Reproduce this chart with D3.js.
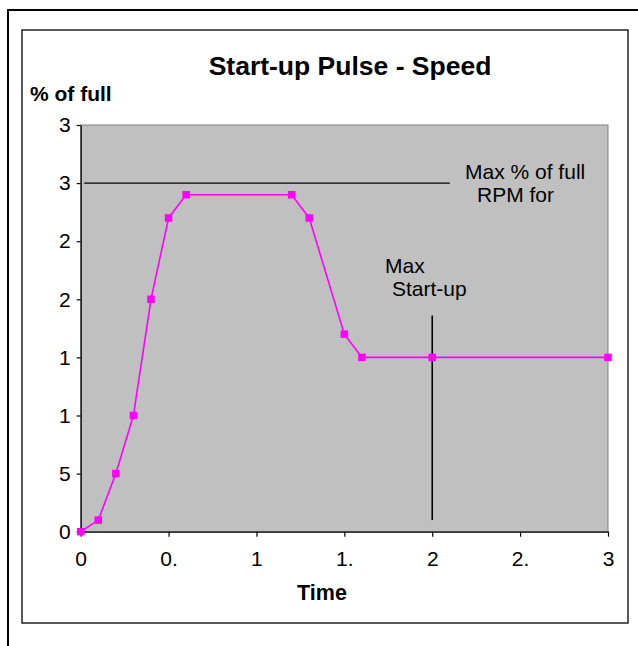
<!DOCTYPE html>
<html>
<head>
<meta charset="utf-8">
<script src="https://cdn.jsdelivr.net/npm/d3@7"></script>
<style>
  body { margin: 0; background: #fff; }
  text { font-family: "Liberation Sans", Arial, sans-serif; }
</style>
</head>
<body>
<svg></svg>
<script>
// data (time in s, speed in % of full)
let times = [0, 0.1, 0.2, 0.3, 0.4, 0.5, 0.6, 1.2, 1.3, 1.5, 1.6, 2.0, 3.0];
let speeds = [0, 1, 5, 10, 20, 27, 29, 29, 27, 17, 15, 15, 15];

let maxLineX = [0.02, 2.1];
let maxLineY = 30;
let startupX = 2.0;
let startupY = [1, 18.6];

let xTicks = [0, 0.5, 1, 1.5, 2, 2.5, 3];
let xTickLabels = ["0", "0.", "1", "1.", "2", "2.", "3"];
let yTicks = [0, 5, 10, 15, 20, 25, 30, 35];
let yTickLabels = ["0", "5", "1", "1", "2", "2", "3", "3"];

let width = 638;
let height = 646;

let svg = d3.select("svg").attr("width", width).attr("height", height);

let xScale = d3.scaleLinear().domain([0, 3]).range([80.7, 608]);
let yScale = d3.scaleLinear().domain([0, 35]).range([531.7, 125]);

// frames
svg.append("path")
  .attr("d", "M8,646 L8,10 L638,10")
  .attr("fill", "none")
  .attr("stroke", "#000")
  .attr("stroke-width", 2);

svg.append("rect")
  .attr("x", 22).attr("y", 30)
  .attr("width", 606).attr("height", 593)
  .attr("fill", "#fff")
  .attr("stroke", "#222")
  .attr("stroke-width", 1.5);

// plot area
svg.append("rect")
  .attr("x", xScale(0)).attr("y", yScale(35))
  .attr("width", xScale(3) - xScale(0))
  .attr("height", yScale(0) - yScale(35))
  .attr("fill", "#c0c0c0")
  .attr("stroke", "#808080")
  .attr("stroke-width", 1);

// axes
let xAxis = d3.axisBottom(xScale)
  .tickValues(xTicks)
  .tickFormat((d, i) => xTickLabels[i])
  .tickSizeInner(5).tickSizeOuter(0).tickPadding(14);

let yAxis = d3.axisLeft(yScale)
  .tickValues(yTicks)
  .tickFormat((d, i) => yTickLabels[i])
  .tickSizeInner(4).tickSizeOuter(0).tickPadding(6);

let gx = svg.append("g")
  .attr("transform", "translate(0," + yScale(0) + ")")
  .call(xAxis);

let gy = svg.append("g")
  .attr("transform", "translate(" + xScale(0) + ",0)")
  .call(yAxis);

[gx, gy].forEach((g) => {
  g.selectAll("path,line").attr("stroke", "#000").attr("stroke-width", 1.2);
  g.selectAll("text")
    .attr("font-size", 21)
    .attr("font-family", "Liberation Sans, Arial, sans-serif")
    .attr("fill", "#000");
});

// max % of full line
svg.append("line")
  .attr("x1", xScale(maxLineX[0])).attr("x2", xScale(maxLineX[1]))
  .attr("y1", yScale(maxLineY)).attr("y2", yScale(maxLineY))
  .attr("stroke", "#000").attr("stroke-width", 1.3);

// max start-up time line
svg.append("line")
  .attr("x1", xScale(startupX)).attr("x2", xScale(startupX))
  .attr("y1", yScale(startupY[0])).attr("y2", yScale(startupY[1]))
  .attr("stroke", "#000").attr("stroke-width", 1.6);

// speed series
let points = times.map((t, i) => [t, speeds[i]]);

let line = d3.line()
  .x((d) => xScale(d[0]))
  .y((d) => yScale(d[1]));

svg.append("path")
  .datum(points)
  .attr("d", line)
  .attr("fill", "none")
  .attr("stroke", "#ff00ff")
  .attr("stroke-width", 1.6);

svg.selectAll("rect.marker")
  .data(points)
  .enter()
  .append("rect")
  .attr("class", "marker")
  .attr("x", (d) => xScale(d[0]) - 3.75)
  .attr("y", (d) => yScale(d[1]) - 3.75)
  .attr("width", 7.5)
  .attr("height", 7.5)
  .attr("fill", "#ff00ff");

// titles and notes
svg.append("text")
  .attr("x", 350).attr("y", 75)
  .attr("text-anchor", "middle")
  .attr("font-size", 26.5).attr("font-weight", "bold")
  .text("Start-up Pulse - Speed");

svg.append("text")
  .attr("x", 30).attr("y", 101)
  .attr("font-size", 21).attr("font-weight", "bold")
  .text("% of full");

svg.append("text")
  .attr("x", 322).attr("y", 600)
  .attr("text-anchor", "middle")
  .attr("font-size", 21.5).attr("font-weight", "bold")
  .text("Time");

let notes = [
  { text: "Max % of full", x: 465, y: 179 },
  { text: "RPM for", x: 477, y: 202 },
  { text: "Max", x: 385, y: 273 },
  { text: "Start-up", x: 392, y: 296 },
];

svg.selectAll("text.note")
  .data(notes)
  .enter()
  .append("text")
  .attr("class", "note")
  .attr("x", (d) => d.x)
  .attr("y", (d) => d.y)
  .attr("font-size", 21)
  .text((d) => d.text);
</script>
</body>
</html>
